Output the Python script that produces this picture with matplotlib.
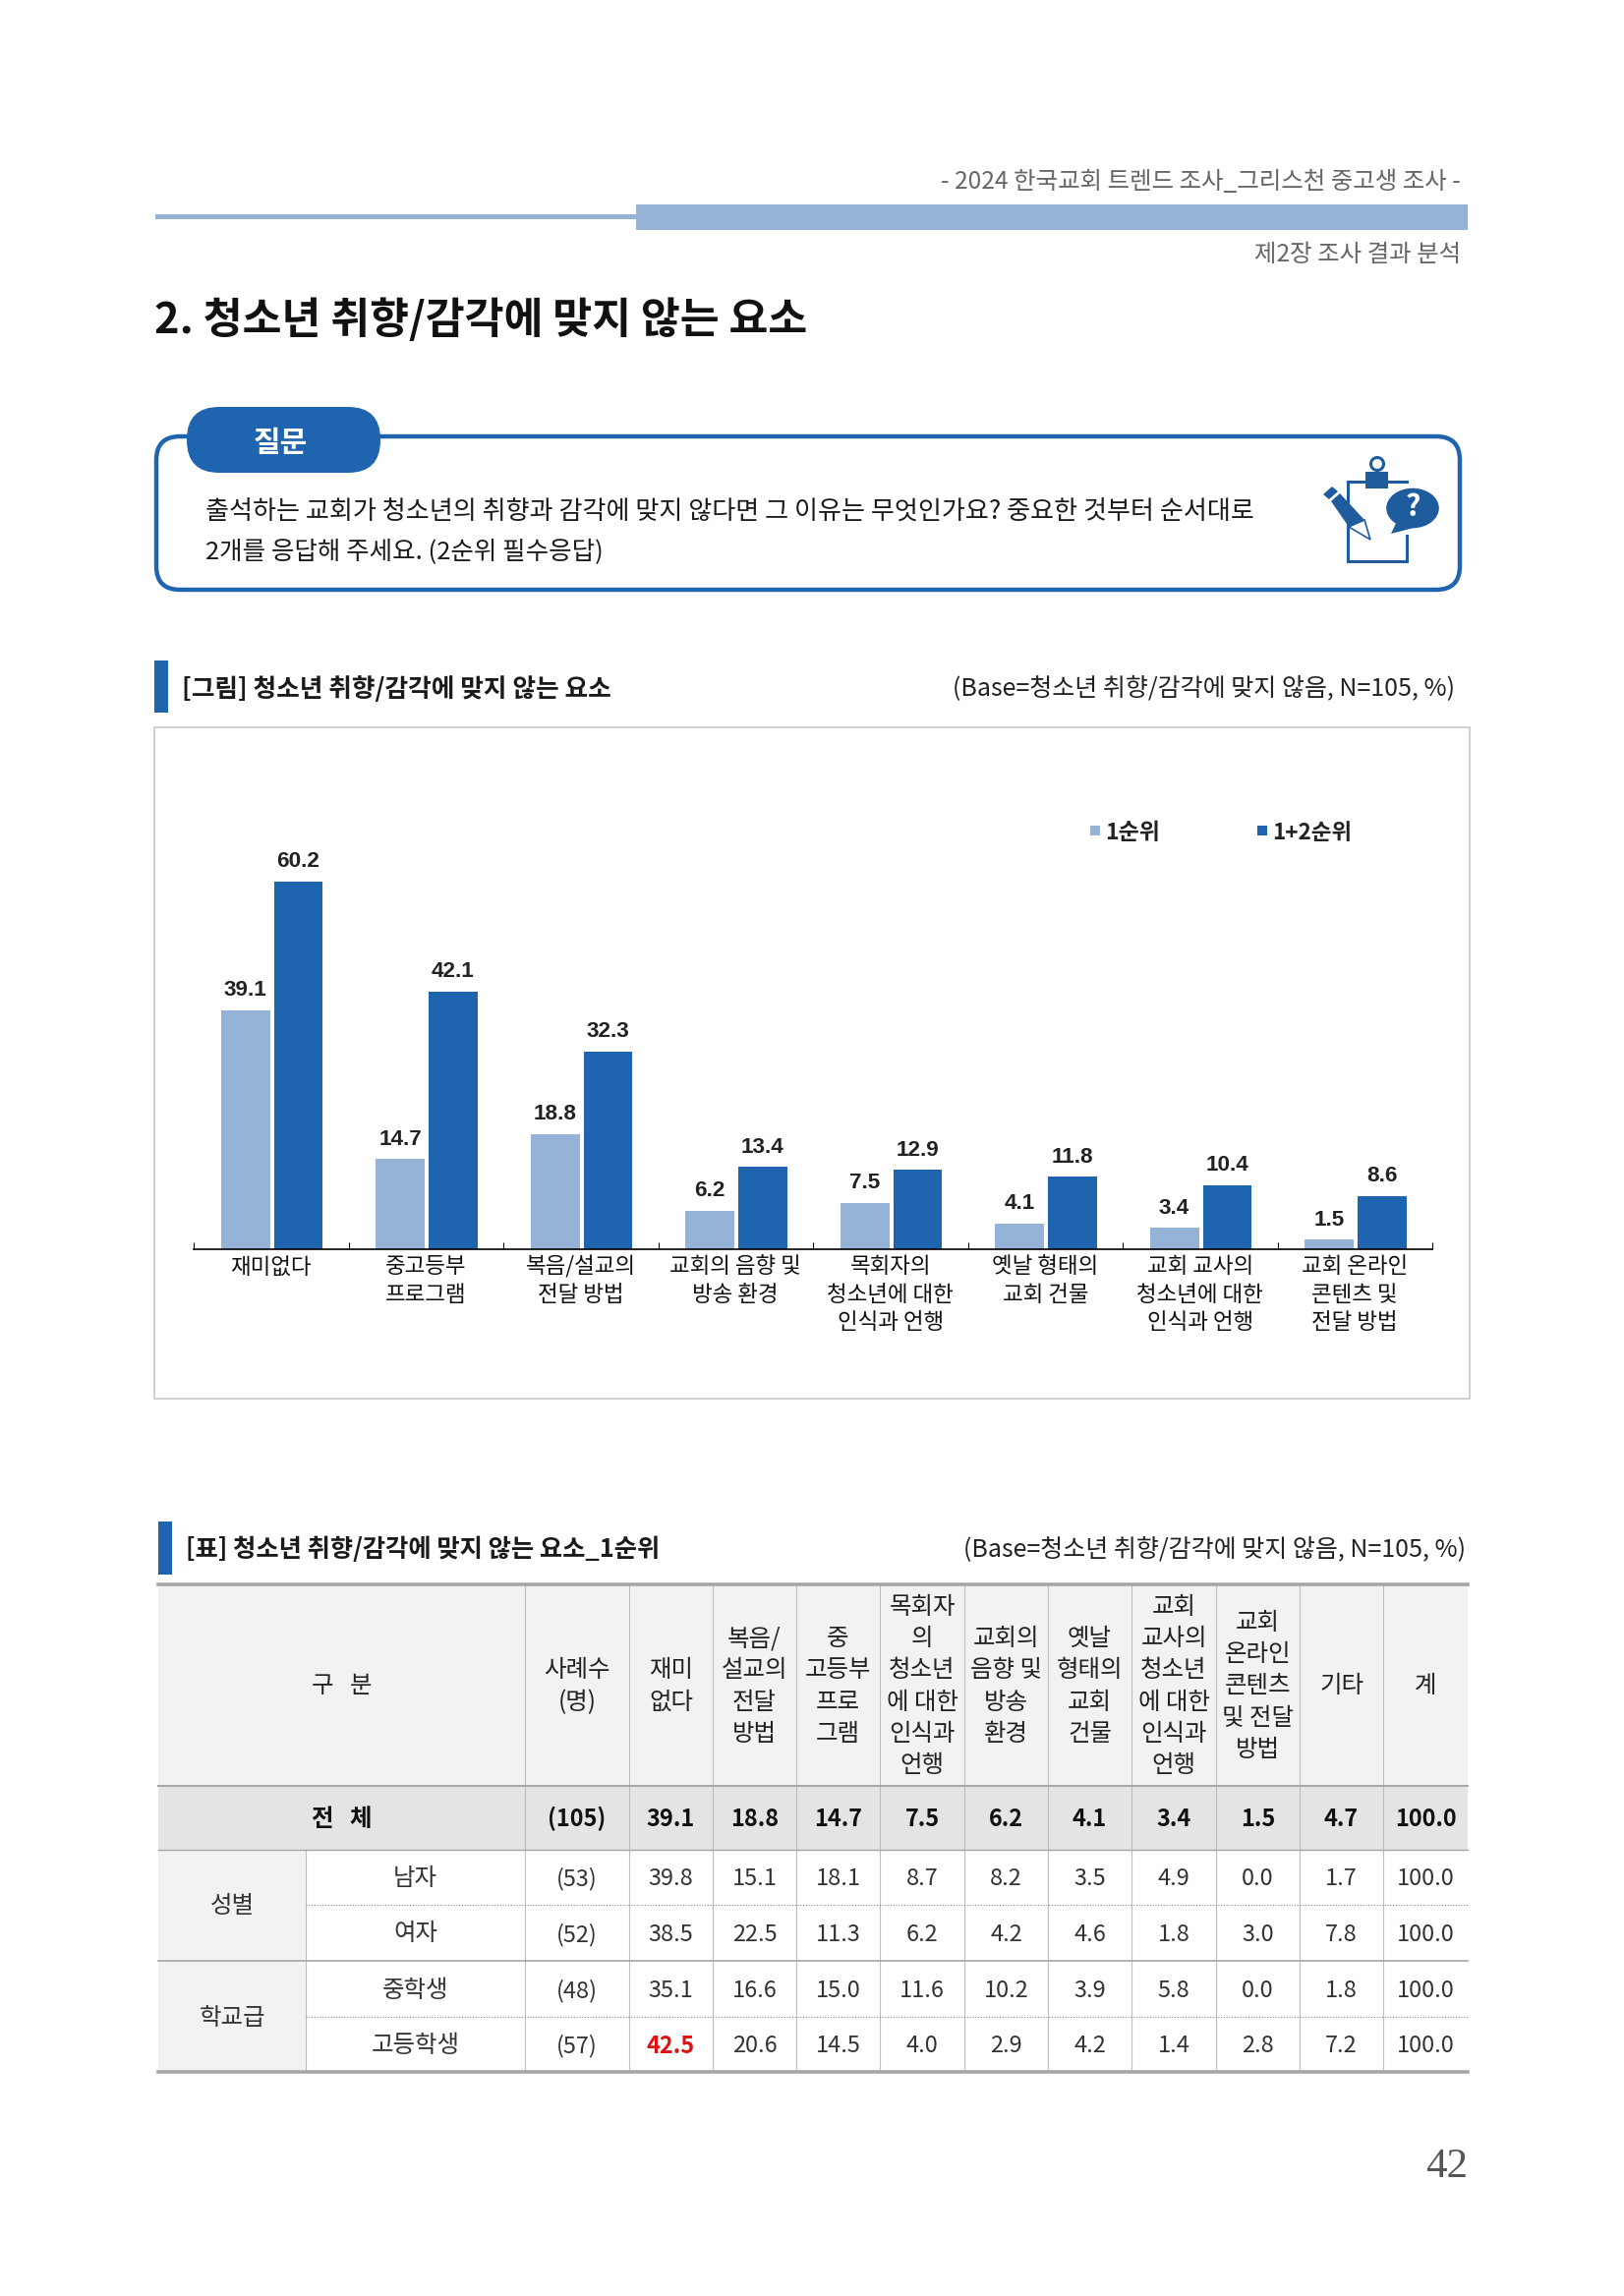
import matplotlib
matplotlib.use('Agg')
import matplotlib.pyplot as plt
from matplotlib.patches import Rectangle, FancyBboxPatch, Polygon, Ellipse, Circle

plt.rcParams['font.family'] = ['Noto Sans CJK KR', 'DejaVu Sans']

# chart data
categories = ['재미없다', '중고등부\n프로그램', '복음/설교의\n전달 방법', '교회의 음향 및\n방송 환경',
              '목회자의\n청소년에 대한\n인식과 언행', '옛날 형태의\n교회 건물',
              '교회 교사의\n청소년에 대한\n인식과 언행', '교회 온라인\n콘텐츠 및\n전달 방법']
rank1 = [39.1, 14.7, 18.8, 6.2, 7.5, 4.1, 3.4, 1.5]
rank12 = [60.2, 42.1, 32.3, 13.4, 12.9, 11.8, 10.4, 8.6]

# table data
col_heads = ['사례수\n(명)', '재미\n없다', '복음/\n설교의\n전달\n방법', '중\n고등부\n프로\n그램',
             '목회자\n의\n청소년\n에 대한\n인식과\n언행', '교회의\n음향 및\n방송\n환경', '옛날\n형태의\n교회\n건물',
             '교회\n교사의\n청소년\n에 대한\n인식과\n언행', '교회\n온라인\n콘텐츠\n및 전달\n방법', '기타', '계']
row_total = ['(105)', '39.1', '18.8', '14.7', '7.5', '6.2', '4.1', '3.4', '1.5', '4.7', '100.0']
row_names = ['남자', '여자', '중학생', '고등학생']
group_names = ['성별', '학교급']
row_values = [
    ['(53)', '39.8', '15.1', '18.1', '8.7', '8.2', '3.5', '4.9', '0.0', '1.7', '100.0'],
    ['(52)', '38.5', '22.5', '11.3', '6.2', '4.2', '4.6', '1.8', '3.0', '7.8', '100.0'],
    ['(48)', '35.1', '16.6', '15.0', '11.6', '10.2', '3.9', '5.8', '0.0', '1.8', '100.0'],
    ['(57)', '42.5', '20.6', '14.5', '4.0', '2.9', '4.2', '1.4', '2.8', '7.2', '100.0'],
]

W, H = 1652, 2336
LIGHT = '#95B3D7'
DARK = '#1F64AF'
ICON = '#1F5C9E'
px = 0.72  # font points per pixel at dpi 100

fig = plt.figure(figsize=(W / 100, H / 100), dpi=100, facecolor='white')
page = fig.add_axes([0, 0, 1, 1])
page.set_xlim(0, W)
page.set_ylim(H, 0)
page.axis('off')


def txt(x, y, s, size, color='black', ha='left', weight='normal', **kw):
    return page.text(x, y + 3, s, fontsize=size * px, color=color, ha=ha, va='center', weight=weight, **kw)


def lines_txt(x, y, s, size, step, **kw):
    parts = s.split('\n')
    for i, part in enumerate(parts):
        txt(x, y + (i - (len(parts) - 1) / 2) * step, part, size, ha='center', **kw)


# page header
txt(1486, 182, '- 2024 한국교회 트렌드 조사_그리스천 중고생 조사 -', 24.5, color='#666666', ha='right')
page.add_patch(Rectangle((158, 218), 489, 5, color=LIGHT, lw=0))
page.add_patch(Rectangle((647, 208), 846, 26, color=LIGHT, lw=0))
txt(1486, 256, '제2장 조사 결과 분석', 24.5, color='#666666', ha='right')
txt(157, 323, '2. 청소년 취향/감각에 맞지 않는 요소', 43.4, weight='bold', color='#111111')

# question box
page.add_patch(FancyBboxPatch((159, 444), 1326, 156, boxstyle='round,pad=0,rounding_size=24',
                              fc='white', ec=DARK, lw=3.2))
page.add_patch(FancyBboxPatch((190, 414), 197, 67, boxstyle='round,pad=0,rounding_size=33',
                              fc=DARK, ec='none'))
txt(285, 448, '질문', 30, color='white', ha='center', weight='bold')
txt(209, 518, '출석하는 교회가 청소년의 취향과 감각에 맞지 않다면 그 이유는 무엇인가요? 중요한 것부터 순서대로', 26.1, color='#1a1a1a')
txt(209, 559, '2개를 응답해 주세요. (2순위 필수응답)', 25.5, color='#1a1a1a')

# clipboard icon
page.plot([1431, 1431, 1371, 1371, 1431], [545, 571, 571, 490, 490], color=ICON, lw=2.2, solid_joinstyle='miter')
page.add_patch(Rectangle((1389, 480), 23, 17, fc=ICON, ec='none'))
page.add_patch(Circle((1401, 472), 6.5, fc='white', ec=ICON, lw=2.2))
page.add_patch(Polygon([(1346, 503), (1355, 495), (1391, 531), (1394, 549), (1375, 538)], fc='white', ec='none'))
page.add_patch(Polygon([(1346, 503), (1355, 495), (1361, 500), (1352, 508)], fc=ICON, ec='none'))
page.add_patch(Polygon([(1354, 510), (1363, 502), (1388, 529), (1372, 536)], fc=ICON, ec='none'))
page.add_patch(Polygon([(1372, 536), (1388, 529), (1394, 549)], fc='white', ec=ICON, lw=1.2))
page.add_patch(Ellipse((1437, 517), 55, 42, fc=ICON, ec='white', lw=1))
page.add_patch(Polygon([(1422, 528), (1438, 537), (1415, 543)], fc=ICON, ec='none'))
txt(1437, 513, '?', 30, color='white', ha='center', weight='bold')

# figure caption
page.add_patch(Rectangle((157, 672), 14, 53, color=DARK, lw=0))
txt(185, 698, '[그림] 청소년 취향/감각에 맞지 않는 요소', 25.7, weight='bold', color='#1a1a1a')
txt(1480, 698, '(Base=청소년 취향/감각에 맞지 않음, N=105, %)', 25, ha='right', color='#222222')

page.add_patch(Rectangle((157, 740), 1338, 683, fc='white', ec='#C8C8C8', lw=1.2))

# bar chart
ax_top, ax_bottom, ax_left, ax_right = 840, 1270.5, 197, 1457
ax = fig.add_axes([ax_left / W, 1 - ax_bottom / H, (ax_right - ax_left) / W, (ax_bottom - ax_top) / H])
ax.patch.set_alpha(0)
xs = list(range(len(categories)))
bar_w = 0.317
bars1 = ax.bar([x - 0.166 for x in xs], rank1, bar_w, color=LIGHT)
bars2 = ax.bar([x + 0.176 for x in xs], rank12, bar_w, color=DARK)
ax.set_xlim(-0.5, 7.5)
ax.set_ylim(0, (ax_bottom - ax_top) / 6.21)
for bars in (bars1, bars2):
    for b in bars:
        ax.annotate(f'{b.get_height():.1f}', (b.get_x() + b.get_width() / 2, b.get_height()),
                    xytext=(0, 14.5), textcoords='offset points', ha='center', va='center',
                    fontsize=22.5 * px, weight='bold', family='Liberation Sans', color='#222222')
for s in ('top', 'left', 'right'):
    ax.spines[s].set_visible(False)
ax.spines['bottom'].set_linewidth(1.2)
ax.set_yticks([])
ax.set_xticks([x - 0.5 for x in range(9)])
ax.set_xticklabels([])
ax.tick_params(axis='x', which='major', direction='in', length=5, width=0.8)
ax.set_xticks(xs, minor=True)
ax.set_xticklabels(categories, minor=True, fontsize=22.5 * px, color='#111111', weight='medium', linespacing=1.29)
ax.tick_params(axis='x', which='minor', length=0, pad=5)
for lab in ax.get_xticklabels(minor=True):
    lab.set_verticalalignment('top')

# legend
page.add_patch(Rectangle((1109, 840), 10, 10, color=LIGHT, lw=0))
txt(1124, 844.5, '1순위', 23, weight='bold', color='#222222')
page.add_patch(Rectangle((1279, 840), 10, 10, color=DARK, lw=0))
txt(1294, 844.5, '1+2순위', 22.5, weight='bold', color='#222222')

# table caption
page.add_patch(Rectangle((161, 1548), 14, 54, color=DARK, lw=0))
txt(189, 1573.5, '[표] 청소년 취향/감각에 맞지 않는 요소_1순위', 25.3, weight='bold', color='#1a1a1a')
txt(1491, 1574, '(Base=청소년 취향/감각에 맞지 않음, N=105, %)', 25, ha='right', color='#222222')

# table grid
col_x = [161, 311, 534, 640, 725, 810, 895, 981, 1066, 1151, 1237, 1322, 1407, 1493]
row_y = [1612, 1817, 1882, 1938, 1995, 2052, 2108]
GRID = '#BDBDBD'
page.add_patch(Rectangle((col_x[0], row_y[0]), col_x[-1] - col_x[0], row_y[1] - row_y[0], fc='#F2F2F2', ec='none'))
page.add_patch(Rectangle((col_x[0], row_y[1]), col_x[-1] - col_x[0], row_y[2] - row_y[1], fc='#E4E4E4', ec='none'))
page.add_patch(Rectangle((col_x[0], row_y[2]), col_x[1] - col_x[0], row_y[6] - row_y[2], fc='#F2F2F2', ec='none'))

for x in col_x[2:-1]:
    page.plot([x, x], [row_y[0], row_y[6]], color=GRID, lw=0.8)
page.plot([col_x[1], col_x[1]], [row_y[2], row_y[6]], color=GRID, lw=0.8)
for i, w in [(0, 2.6), (1, 1.4), (2, 1.0), (4, 1.2), (6, 2.6)]:
    page.plot([col_x[0], col_x[-1]], [row_y[i], row_y[i]], color='#A6A6A6', lw=w)
for i in (3, 5):
    page.plot([col_x[1], col_x[-1]], [row_y[i], row_y[i]], color='#8C8C8C', lw=0.8, ls=(0, (1, 1.5)))

txt((col_x[0] + col_x[2]) / 2, (row_y[0] + row_y[1]) / 2 - 3, '구   분', 24.5, ha='center', color='#222222', weight='medium')
for j, head in enumerate(col_heads):
    cx = (col_x[j + 2] + col_x[j + 3]) / 2
    lines_txt(cx, (row_y[0] + row_y[1]) / 2 - 2, head, 24.5, 32.3, color='#222222', weight='medium')

txt((col_x[0] + col_x[2]) / 2, (row_y[1] + row_y[2]) / 2 - 2, '전   체', 24.5, ha='center', weight='bold', color='#111111')
for j, v in enumerate(row_total):
    cx = (col_x[j + 2] + col_x[j + 3]) / 2
    txt(cx, (row_y[1] + row_y[2]) / 2 - 2, v, 23.5, ha='center', weight='bold', color='#111111')

for k, name in enumerate(group_names):
    cy = row_y[2 + 2 * k + 1]
    txt((col_x[0] + col_x[1]) / 2, cy - 2, name, 24.5, ha='center', color='#333333')

for i, name in enumerate(row_names):
    cy = (row_y[i + 2] + row_y[i + 3]) / 2
    txt((col_x[1] + col_x[2]) / 2, cy - 2, name, 24.5, ha='center', color='#333333')
    for j, v in enumerate(row_values[i]):
        cx = (col_x[j + 2] + col_x[j + 3]) / 2
        if v == '42.5':
            txt(cx, cy - 1, v, 23.5, ha='center', color='#E01010', weight='bold')
        else:
            txt(cx, cy - 1, v, 23.5, ha='center', color='#333333')

# page number
txt(1472, 2202, '42', 43, ha='center', color='#555555', family='Liberation Serif')

fig.savefig('out.png', dpi=100)
